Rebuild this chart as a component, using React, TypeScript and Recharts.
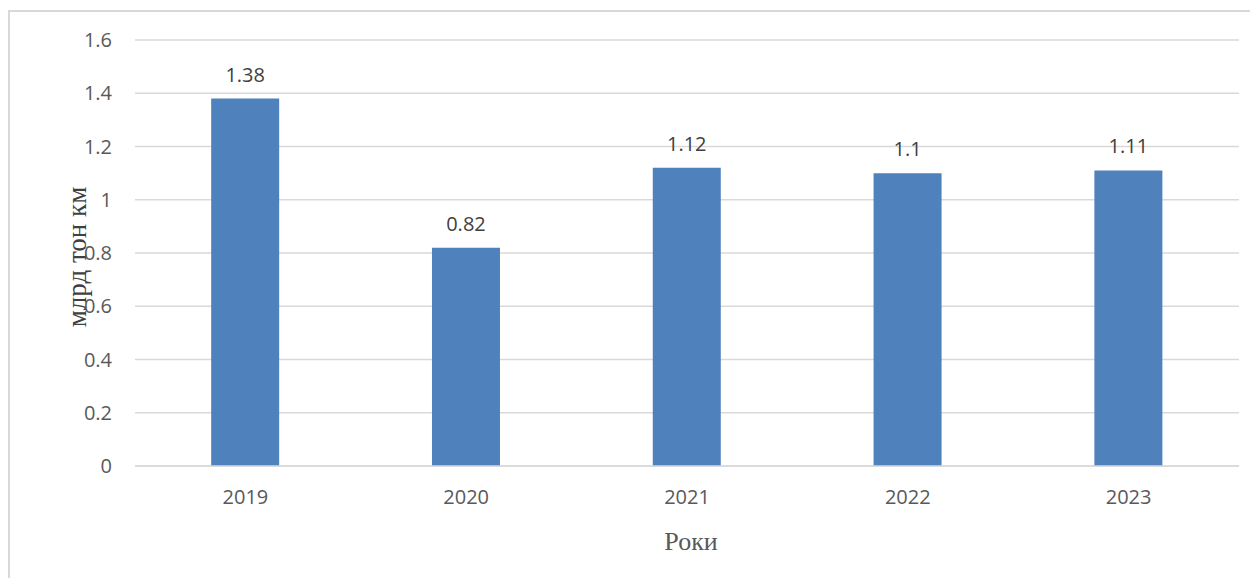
import { BarChart, Bar, XAxis, YAxis, CartesianGrid, LabelList } from "recharts";

const years = ["2019", "2020", "2021", "2022", "2023"];
const freight = [1.38, 0.82, 1.12, 1.1, 1.11];
const yTicks = [0, 0.2, 0.4, 0.6, 0.8, 1, 1.2, 1.4, 1.6];

const data = years.map((year, i) => ({ year, value: freight[i] }));

const tickFont = { fontFamily: "'Open Sans', 'Liberation Sans', sans-serif", fontSize: 20, fill: "#595959" };

export default function App() {
  return (
    <div
      style={{
        position: "relative",
        top: 2,
        width: 1260,
        height: 580,
        borderLeft: "2px solid #d9d9d9",
        borderTop: "2px solid #d9d9d9",
        background: "#fff",
      }}
    >
      <BarChart
        width={1250}
        height={568}
        data={data}
        margin={{ top: 28, right: 21, left: 0, bottom: 0 }}
        barCategoryGap="34.5%"
      >
        <CartesianGrid vertical={false} stroke="#d9d9d9" strokeWidth={1.5} />
        <XAxis
          dataKey="year"
          height={114}
          axisLine={{ stroke: "#d9d9d9", strokeWidth: 1.5 }}
          tickLine={false}
          tickMargin={18}
          tick={tickFont}
          label={(props: any) => {
            const vb = props.viewBox;
            return (
              <text
                x={vb.x + vb.width / 2 + 4}
                y={vb.y + 84}
                textAnchor="middle"
                fontFamily="'Liberation Serif', 'DejaVu Serif', serif"
                fontSize={26}
                fill="#595959"
              >
                Роки
              </text>
            );
          }}
        />
        <YAxis
          width={125}
          domain={[0, 1.6]}
          ticks={yTicks}
          axisLine={false}
          tickLine={false}
          tickMargin={17}
          tick={tickFont}
          label={(props: any) => {
            const vb = props.viewBox;
            const cx = 67;
            const cy = vb.y + vb.height / 2 + 4;
            return (
              <text
                x={cx}
                y={cy}
                transform={`rotate(-90 ${cx} ${cy})`}
                textAnchor="middle"
                dominantBaseline="central"
                fontFamily="'Liberation Serif', 'DejaVu Serif', serif"
                fontSize={27}
                fill="#404040"
              >
                млрд тон км
              </text>
            );
          }}
        />
        <Bar dataKey="value" fill="#4f81bd" isAnimationActive={false}>
          <LabelList
            dataKey="value"
            position="top"
            offset={17}
            style={{ fontFamily: "'Open Sans', 'Liberation Sans', sans-serif", fontSize: 20, fill: "#404040" }}
          />
        </Bar>
      </BarChart>
    </div>
  );
}
